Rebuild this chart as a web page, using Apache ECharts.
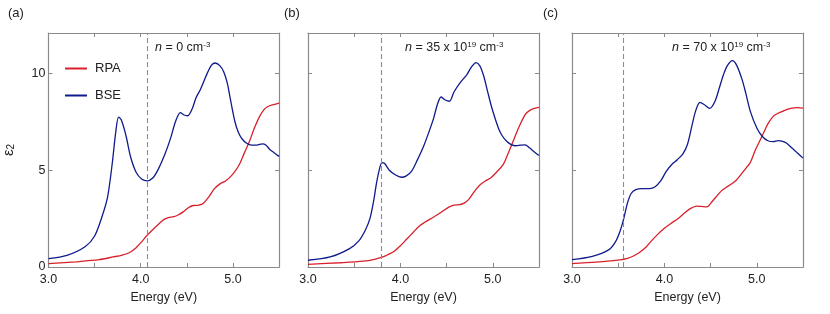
<!DOCTYPE html>
<html><head><meta charset="utf-8">
<script src="https://cdn.jsdelivr.net/npm/echarts@6/dist/echarts.min.js"></script>
<style>html,body{margin:0;padding:0;background:#fff}#c{width:830px;height:314px}</style>
</head><body><div id="c"></div>
<script>
// ---- data ----
const panelLabels = ['(a)', '(b)', '(c)'];
const densityText = ['0', '35 x 10', '70 x 10'];
const xTickLabels = ['3.0', '4.0', '5.0'];
const yTickLabels = ['0', '5', '10'];
const legendNames = ['RPA', 'BSE'];

// panel (a) n = 0
const bseA_E = [3.0,3.2,3.4,3.5,3.58,3.64,3.69,3.73,3.76,3.79,3.84,3.89,3.95,4.01,4.07,4.13,4.19,4.26,4.32,4.38,4.43,4.47,4.51,4.56,4.6,4.65,4.72,4.77,4.81,4.86,4.9,4.94,4.97,5.02,5.06,5.1,5.15,5.2,5.26,5.32,5.36,5.4,5.45,5.5];
const bseA   = [0.43,0.6,1.06,1.6,2.6,3.6,5.3,7.0,7.75,7.6,6.8,5.7,4.9,4.55,4.45,4.6,5.05,5.8,6.6,7.55,7.98,7.86,7.82,8.2,8.75,9.2,10.0,10.45,10.55,10.4,10.1,9.5,8.74,7.55,6.95,6.62,6.4,6.3,6.3,6.37,6.3,6.08,5.9,5.72];
const rpaA_E = [3.0,3.3,3.55,3.7,3.8,3.88,3.95,4.01,4.07,4.13,4.19,4.25,4.3,4.36,4.41,4.46,4.52,4.57,4.63,4.68,4.74,4.8,4.86,4.92,4.98,5.03,5.07,5.12,5.18,5.23,5.29,5.34,5.38,5.44,5.5];
const rpaA   = [0.17,0.27,0.38,0.52,0.62,0.75,1.0,1.3,1.64,1.93,2.2,2.45,2.55,2.6,2.7,2.85,3.08,3.18,3.2,3.3,3.63,4.05,4.3,4.45,4.7,5.0,5.3,5.85,6.5,7.15,7.79,8.15,8.3,8.4,8.48];
// panel (b) n = 35e19
const bseB_E = [3.0,3.24,3.45,3.55,3.62,3.67,3.71,3.74,3.77,3.8,3.83,3.88,3.94,4.01,4.06,4.12,4.18,4.25,4.31,4.36,4.4,4.44,4.48,4.53,4.58,4.645,4.72,4.77,4.82,4.86,4.9,4.94,4.99,5.06,5.1,5.15,5.2,5.25,5.3,5.35,5.4,5.45,5.5];
const bseB   = [0.35,0.52,0.95,1.35,1.9,2.5,3.4,4.3,5.0,5.4,5.35,5.0,4.78,4.64,4.7,4.95,5.5,6.23,7.0,7.7,8.4,8.79,8.65,8.57,9.05,9.52,9.95,10.35,10.57,10.4,9.9,9.15,8.22,7.19,6.8,6.5,6.33,6.27,6.3,6.32,6.15,5.95,5.77];
const rpaB_E = [3.0,3.35,3.6,3.72,3.81,3.87,3.93,4.0,4.07,4.14,4.2,4.26,4.33,4.4,4.46,4.52,4.58,4.64,4.69,4.74,4.8,4.86,4.92,4.98,5.04,5.11,5.16,5.22,5.28,5.35,5.4,5.45,5.5];
const rpaB   = [0.14,0.22,0.3,0.4,0.52,0.65,0.8,1.1,1.45,1.8,2.1,2.3,2.5,2.7,2.9,3.08,3.2,3.22,3.3,3.5,3.9,4.24,4.45,4.62,4.9,5.28,5.8,6.5,7.2,7.88,8.1,8.2,8.25];
// panel (c) n = 70e19
const bseC_E = [3.0,3.22,3.4,3.47,3.52,3.56,3.6,3.64,3.69,3.76,3.84,3.9,3.96,4.02,4.08,4.14,4.2,4.25,4.3,4.34,4.385,4.43,4.49,4.55,4.6,4.64,4.68,4.735,4.78,4.84,4.88,4.93,5.0,5.06,5.12,5.18,5.23,5.28,5.32,5.38,5.44,5.5];
const bseC   = [0.38,0.55,0.9,1.3,1.85,2.5,3.3,3.8,4.0,4.05,4.05,4.15,4.45,4.95,5.3,5.55,5.85,6.35,7.35,8.1,8.51,8.4,8.2,8.6,9.35,9.95,10.4,10.67,10.45,9.7,9.0,8.05,7.19,6.75,6.53,6.48,6.53,6.5,6.41,6.15,5.9,5.63];
const rpaC_E = [3.0,3.36,3.52,3.6,3.67,3.73,3.8,3.86,3.93,4.0,4.07,4.15,4.22,4.28,4.35,4.4,4.46,4.51,4.56,4.62,4.67,4.73,4.78,4.84,4.89,4.93,4.98,5.03,5.07,5.12,5.18,5.23,5.28,5.33,5.38,5.44,5.5];
const rpaC   = [0.17,0.29,0.37,0.45,0.58,0.75,1.02,1.35,1.7,2.0,2.25,2.51,2.8,3.02,3.15,3.13,3.11,3.35,3.63,3.95,4.12,4.3,4.5,4.85,5.15,5.4,6.0,6.5,6.9,7.4,7.8,7.95,8.05,8.15,8.22,8.24,8.22];
// dashed marker energies
const markerE = [4.07, 3.79, 3.56];

// ---- build chart ----
const zip = (a, b) => a.map((v, i) => [v, b[i]]);
const RED = '#d8202a', BLUE = '#0f1a8c', AX = '#8a8a8a';
const FONT = 'Liberation Sans, Arial, sans-serif';
const grids = [
  {left: 47, top: 33, width: 232, height: 234},
  {left: 308, top: 33, width: 231, height: 234},
  {left: 572, top: 33, width: 231, height: 234}
];
const bse = [zip(bseA_E, bseA), zip(bseB_E, bseB), zip(bseC_E, bseC)];
const rpa = [zip(rpaA_E, rpaA), zip(rpaB_E, rpaB), zip(rpaC_E, rpaC)];

const xAxes = [], yAxes = [], series = [];
grids.forEach((g, i) => {
  const common = {min: 3.0, max: 5.5, interval: 0.5, gridIndex: i,
    axisLine: {show: true, onZero: false, lineStyle: {color: AX, width: 1.2}},
    axisTick: {show: true, inside: true, length: 4, lineStyle: {color: AX, width: 1}},
    splitLine: {show: false}};
  xAxes.push(Object.assign({}, common, {type: 'value', position: 'bottom',
    name: 'Energy (eV)', nameLocation: 'middle', nameGap: 24,
    nameTextStyle: {fontFamily: FONT, fontSize: 12.5, color: '#222'},
    axisLabel: {show: true, margin: 6, fontFamily: FONT, fontSize: 12.5, color: '#222',
      showMaxLabel: false,
      formatter: v => { const k = Math.round(v) - 3; return (Math.abs(v - Math.round(v)) < 1e-6 && xTickLabels[k]) ? xTickLabels[k] : ''; }}}));
  xAxes.push(Object.assign({}, common, {type: 'value', position: 'top', axisLabel: {show: false}}));
  const ycommon = {type: 'value', min: 0, max: 12.1, interval: 5, gridIndex: i,
    axisLine: {show: true, onZero: false, lineStyle: {color: AX, width: 1.2}},
    axisTick: {show: true, inside: true, length: 4, lineStyle: {color: AX, width: 1}},
    splitLine: {show: false}};
  yAxes.push(Object.assign({}, ycommon, {position: 'left',
    name: i === 0 ? '{e|ε}{s|2}' : '', nameLocation: 'middle', nameGap: 32, nameRotate: 90,
    nameTextStyle: {fontFamily: FONT, fontSize: 15, color: '#222',
      rich: {e: {fontFamily: FONT, fontSize: 15, color: '#222'},
             s: {fontFamily: FONT, fontSize: 10, color: '#222', verticalAlign: 'bottom', padding: [6, 0, 0, 0]}}},
    axisLabel: {show: i === 0, margin: 3, fontFamily: FONT, fontSize: 12.5, color: '#222',
      showMaxLabel: false,
      formatter: v => { const k = Math.round(v / 5); return (Math.abs(v - 5 * k) < 1e-6 && yTickLabels[k]) ? yTickLabels[k] : ''; }}}));
  yAxes.push(Object.assign({}, ycommon, {position: 'right', axisLabel: {show: false}}));

  series.push({type: 'line', name: 'RPA', xAxisIndex: 2 * i, yAxisIndex: 2 * i,
    data: rpa[i], smooth: 0.3, showSymbol: false, symbol: 'none',
    lineStyle: {color: RED, width: 1.3}, itemStyle: {color: RED}, z: 3,
    markLine: {silent: true, symbol: 'none', label: {show: false},
      lineStyle: {color: '#8484d4', type: [5, 3], width: 1.1},
      data: [{xAxis: markerE[i]}]}});
  series.push({type: 'line', name: 'BSE', xAxisIndex: 2 * i, yAxisIndex: 2 * i,
    data: bse[i], smooth: 0.3, showSymbol: false, symbol: 'none',
    lineStyle: {color: BLUE, width: 1.3}, itemStyle: {color: BLUE}, z: 4});
});

const txt = (x, y, t, opts) => ({type: 'text', left: x, top: y,
  style: Object.assign({text: t, font: '13px ' + FONT, fill: '#222'}, opts || {})});
const rich = {i: {fontStyle: 'italic', fontSize: 12.5, fontFamily: FONT, fill: '#222'},
  s: {fontSize: 12.5, fontFamily: FONT, fill: '#222'},
  sup: {fontSize: 8, fontFamily: FONT, fill: '#222', verticalAlign: 'top', padding: [0, 0, 6, 0]}};

const annots = [
  '{i|n}{s| = ' + densityText[0] + ' cm}{sup|-3}',
  '{i|n}{s| = ' + densityText[1] + '}{sup|19}{s| cm}{sup|-3}',
  '{i|n}{s| = ' + densityText[2] + '}{sup|19}{s| cm}{sup|-3}'
];
const annX = [155, 405, 672];

const graphic = [
  txt(8, 7, panelLabels[0]), txt(284, 7, panelLabels[1]), txt(543, 7, panelLabels[2])
];
annots.forEach((a, i) => graphic.push({type: 'text', left: annX[i], top: 41,
  style: {text: a, rich: rich, font: '12.5px ' + FONT, fill: '#222'}}));

const chart = echarts.init(document.getElementById('c'), null, {renderer: 'canvas'});
chart.setOption({
  animation: false,
  backgroundColor: '#fff',
  grid: grids,
  xAxis: xAxes,
  yAxis: yAxes,
  series: series,
  legend: {data: legendNames, orient: 'vertical', left: 60, top: 57, itemGap: 14,
    itemWidth: 22, itemHeight: 2, icon: 'rect',
    textStyle: {fontFamily: FONT, fontSize: 13, color: '#222', padding: [0, 0, 0, 3]}},
  graphic: graphic
});
</script></body></html>
